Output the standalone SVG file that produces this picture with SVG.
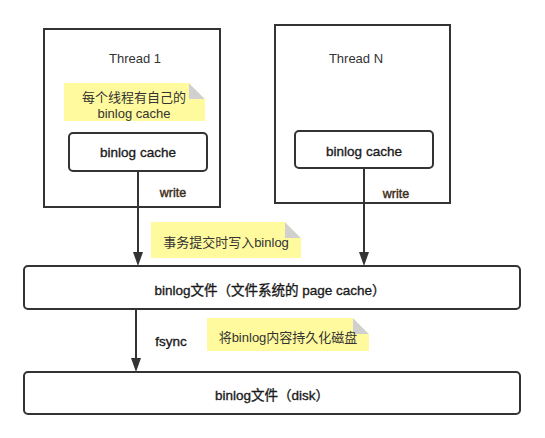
<svg xmlns="http://www.w3.org/2000/svg" width="545" height="438" viewBox="0 0 545 438">
<style>
.frame{fill:#fff;stroke:#333;stroke-width:2}
.box{fill:#fff;stroke:#333;stroke-width:2}
.note{fill:#fffa9e}
.fold{fill:#d0d0d0}
.t{font-family:"Liberation Sans","Noto Sans CJK SC",sans-serif;font-size:13px;text-anchor:middle;dominant-baseline:central}
.thin{fill:#333}
.lbl{fill:#1a1a1a;stroke:#1a1a1a;stroke-width:0.35;font-size:13.5px}
.nt{fill:#333}
.w{fill:#3b2a14;stroke:#3b2a14;stroke-width:0.4;font-size:12.5px}
.conn{stroke:#333;stroke-width:2;fill:none}
.head{fill:#333}
</style>
<rect width="545" height="438" fill="#fff"/>
<g id="thread1">
<rect class="frame" x="44" y="29" width="176" height="178"/>
<text class="t thin" x="135" y="58">Thread 1</text>
</g>
<g id="threadN">
<rect class="frame" x="275" y="25" width="175" height="178"/>
<text class="t thin" x="356" y="58">Thread N</text>
</g>
<g id="note1">
<rect class="note" x="64" y="83" width="141" height="38"/>
<path class="fold" d="M189,83 L205,99 L189,99 Z"/>
<path d="M189,83 L205,83 L205,99 Z" fill="#fff"/>
<text class="t nt" x="134" y="97">每个线程有自己的</text>
<text class="t nt" x="134" y="113">binlog cache</text>
</g>
<g id="cache1">
<rect class="box" x="69" y="133" width="138" height="38" rx="4"/>
<text class="t lbl" x="138" y="152">binlog cache</text>
</g>
<g id="cacheN">
<rect class="box" x="295" y="131" width="138" height="37" rx="4"/>
<text class="t lbl" x="364" y="151">binlog cache</text>
</g>
<g id="note2">
<rect class="note" x="151" y="222" width="150" height="36"/>
<path class="fold" d="M285,222 L301,238 L285,238 Z"/>
<path d="M285,222 L301,222 L301,238 Z" fill="#fff"/>
<text class="t nt" x="226" y="242">事务提交时写入binlog</text>
</g>
<g id="pagecache">
<rect class="box" x="24" y="266" width="496" height="43" rx="4"/>
<text class="t lbl" x="270" y="290">binlog文件（文件系统的 page cache）</text>
</g>
<g id="note3">
<rect class="note" x="207" y="318" width="162" height="33"/>
<path class="fold" d="M353,318 L369,334 L353,334 Z"/>
<path d="M353,318 L369,318 L369,334 Z" fill="#fff"/>
<text class="t nt" x="288" y="337">将binlog内容持久化磁盘</text>
</g>
<g id="disk">
<rect class="box" x="24" y="372" width="496" height="42" rx="4"/>
<text class="t lbl" x="272" y="395">binlog文件（disk）</text>
</g>
<g id="connectors">
<line class="conn" x1="138" y1="171" x2="138" y2="254"/>
<path class="head" d="M133,252 L143,252 L138,266 Z"/>
<text class="t w" x="173" y="193">write</text>
<line class="conn" x1="364" y1="168" x2="364" y2="254"/>
<path class="head" d="M359,252 L369,252 L364,266 Z"/>
<text class="t w" x="396" y="194">write</text>
<line class="conn" x1="136" y1="309" x2="136" y2="360"/>
<path class="head" d="M131,358 L141,358 L136,372 Z"/>
<text class="t lbl" x="171" y="341">fsync</text>
</g>
</svg>
